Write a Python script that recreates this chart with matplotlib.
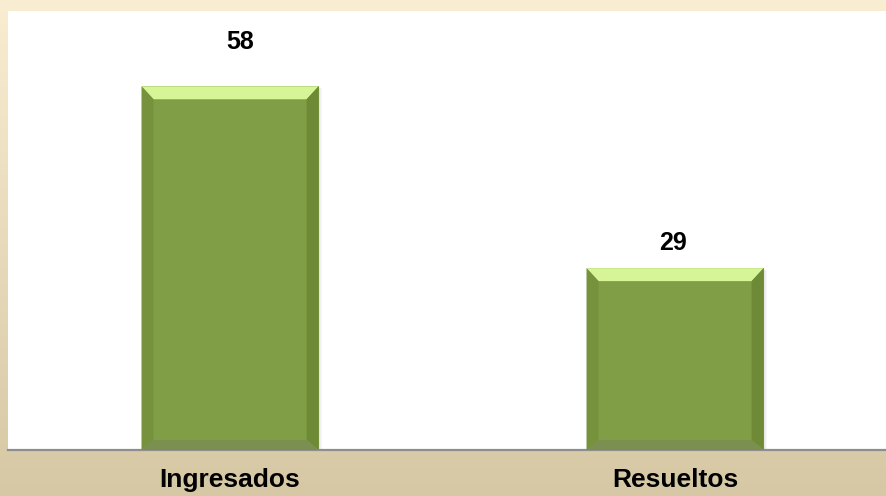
import numpy as np
import matplotlib.pyplot as plt
from matplotlib.patches import Polygon

categories = ['Ingresados', 'Resueltos']
values = [58, 29]

W, H = 886, 496
fig = plt.figure(figsize=(W / 100, H / 100), dpi=100)

# background gradient (cream at top, tan at bottom)
bg = fig.add_axes([0, 0, 1, 1])
top = np.array([249, 237, 210]) / 255
bot = np.array([214, 200, 164]) / 255
t = np.linspace(0, 1, 256)[:, None]
grad = top * (1 - t) + bot * t
bg.imshow(grad[:, None, :], aspect='auto', extent=[0, 1, 0, 1])
bg.axis('off')

# plot area in pixels: left 8, right 886, top 11, bottom 450
ax = fig.add_axes([8 / W, (H - 450) / H, (W - 8) / W, (450 - 11) / H])
ax.set_facecolor('white')
ax.set_xlim(-0.499, 1.474)
ax.set_ylim(0, 70)
for s in ['top', 'right', 'left']:
    ax.spines[s].set_visible(False)
ax.spines['bottom'].set_color('#8e8e8e')
ax.spines['bottom'].set_linewidth(1.6)
ax.set_yticks([])
ax.set_xticks([])

x = np.arange(len(categories))
bars = ax.bar(x, values, width=0.398, color='#809e45', edgecolor='none', zorder=2)

px_x = (ax.get_xlim()[1] - ax.get_xlim()[0]) / (W - 8)
px_y = (ax.get_ylim()[1] - ax.get_ylim()[0]) / (450 - 11)
bx, by_top, by_bot = 12 * px_x, 13 * px_y, 10 * px_y

for b in bars:
    x0, y0 = b.get_x(), b.get_y()
    x1, y1 = x0 + b.get_width(), y0 + b.get_height()
    # soft shadow on right
    for k, a in enumerate([0.10, 0.06, 0.03]):
        ax.add_patch(plt.Rectangle((x1 + k * px_x, y0), px_x, b.get_height() - 2 * px_y,
                                   color='black', alpha=a, lw=0, zorder=1))
    faces = [
        ([(x0, y1), (x1, y1), (x1 - bx, y1 - by_top), (x0 + bx, y1 - by_top)], '#d5f596'),
        ([(x0, y0), (x0, y1), (x0 + bx, y1 - by_top), (x0 + bx, y0 + by_bot)], '#76923c'),
        ([(x1, y0), (x1, y1), (x1 - bx, y1 - by_top), (x1 - bx, y0 + by_bot)], '#6f8a37'),
        ([(x0, y0), (x1, y0), (x1 - bx, y0 + by_bot), (x0 + bx, y0 + by_bot)], '#7b9050'),
    ]
    for pts, c in faces:
        ax.add_patch(Polygon(pts, closed=True, color=c, lw=0, zorder=3))

# value labels (offsets in pixels from the bar top centre)
label_offsets = [(10, 37), (-2, 18)]
for b, v, (dx, dy) in zip(bars, values, label_offsets):
    ax.annotate(str(v), (b.get_x() + b.get_width() / 2, b.get_height()),
                xytext=(dx * 0.72, dy * 0.72), textcoords='offset points',
                ha='center', va='baseline',
                fontsize=18, fontweight='bold', family='Liberation Sans', color='black')

for xi, c in zip(x, categories):
    ax.text(xi, -37 * px_y, c, ha='center', va='baseline', fontsize=19, fontweight='bold',
            family='Liberation Sans', color='black', clip_on=False)

fig.savefig('out.png', dpi=100)
